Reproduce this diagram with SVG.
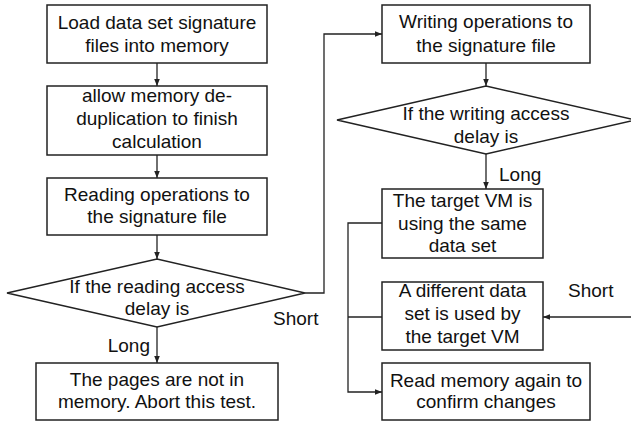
<svg xmlns="http://www.w3.org/2000/svg" width="631" height="421" viewBox="0 0 631 421">
<style>
.box{fill:#fff;stroke:#222;stroke-width:1.5}
.ln{fill:none;stroke:#222;stroke-width:1.3}
text{font-family:"Liberation Sans",Arial,sans-serif;font-size:19px;fill:#111}
.c{text-anchor:middle}
</style>
<defs>
<marker id="ah" viewBox="0 0 10 10" refX="10" refY="5" markerWidth="7" markerHeight="7" markerUnits="userSpaceOnUse" orient="auto">
<path d="M0,1 L10,5 L0,9 Z" fill="#222"/>
</marker>
</defs>
<rect width="631" height="421" fill="#fff"/>
<g id="connectors">
<line class="ln" x1="157" y1="63" x2="157" y2="86" marker-end="url(#ah)"/>
<line class="ln" x1="157" y1="155" x2="157" y2="178" marker-end="url(#ah)"/>
<line class="ln" x1="157" y1="235" x2="157" y2="259" marker-end="url(#ah)"/>
<line class="ln" x1="157" y1="327" x2="157" y2="363" marker-end="url(#ah)"/>
<polyline class="ln" points="305,293 324,293 324,34 382,34" marker-end="url(#ah)"/>
<line class="ln" x1="486" y1="63" x2="486" y2="86" marker-end="url(#ah)"/>
<line class="ln" x1="486" y1="154" x2="486" y2="189" marker-end="url(#ah)"/>
<polyline class="ln" points="382,223 348,223 348,392 382,392" marker-end="url(#ah)"/>
<line class="ln" x1="348" y1="317" x2="382" y2="317"/>
<line class="ln" x1="631" y1="317" x2="543" y2="317" marker-end="url(#ah)"/>
<text x="150" y="352" text-anchor="end">Long</text>
<text x="273" y="325">Short</text>
<text x="499" y="181">Long</text>
<text x="568" y="297">Short</text>
</g>
<g id="load">
<rect class="box" x="47" y="5" width="220" height="58"/>
<text class="c" x="157" y="29">Load data set signature</text>
<text class="c" x="157" y="52">files into memory</text>
</g>
<g id="dedup">
<rect class="box" x="47" y="86" width="220" height="69"/>
<text class="c" x="157" y="102">allow memory de-</text>
<text class="c" x="157" y="125">duplication to finish</text>
<text class="c" x="157" y="148">calculation</text>
</g>
<g id="reading">
<rect class="box" x="47" y="178" width="220" height="57"/>
<text class="c" x="157" y="201">Reading operations to</text>
<text class="c" x="157" y="223">the signature file</text>
</g>
<g id="readdecision">
<polygon class="box" points="7,293 157,259 305,293 157,327"/>
<text class="c" x="157" y="293">If the reading access</text>
<text class="c" x="157" y="315">delay is</text>
</g>
<g id="abort">
<rect class="box" x="36" y="363" width="242" height="57"/>
<text class="c" x="157" y="386">The pages are not in</text>
<text class="c" x="157" y="408">memory. Abort this test.</text>
</g>
<g id="writing">
<rect class="box" x="382" y="5" width="208" height="58"/>
<text class="c" x="486" y="28">Writing operations to</text>
<text class="c" x="486" y="52">the signature file</text>
</g>
<g id="writedecision">
<polygon class="box" points="337,120 486,86 635,120 486,154"/>
<text class="c" x="486" y="120">If the writing access</text>
<text class="c" x="486" y="143">delay is</text>
</g>
<g id="same">
<rect class="box" x="382" y="189" width="161" height="69"/>
<text class="c" x="462.5" y="207">The target VM is</text>
<text class="c" x="462.5" y="230">using the same</text>
<text class="c" x="462.5" y="252">data set</text>
</g>
<g id="different">
<rect class="box" x="382" y="282" width="161" height="68"/>
<text class="c" x="462.5" y="297">A different data</text>
<text class="c" x="462.5" y="320">set is used by</text>
<text class="c" x="462.5" y="343">the target VM</text>
</g>
<g id="readagain">
<rect class="box" x="382" y="363" width="208" height="57"/>
<text class="c" x="486" y="387">Read memory again to</text>
<text class="c" x="486" y="408">confirm changes</text>
</g>
</svg>
